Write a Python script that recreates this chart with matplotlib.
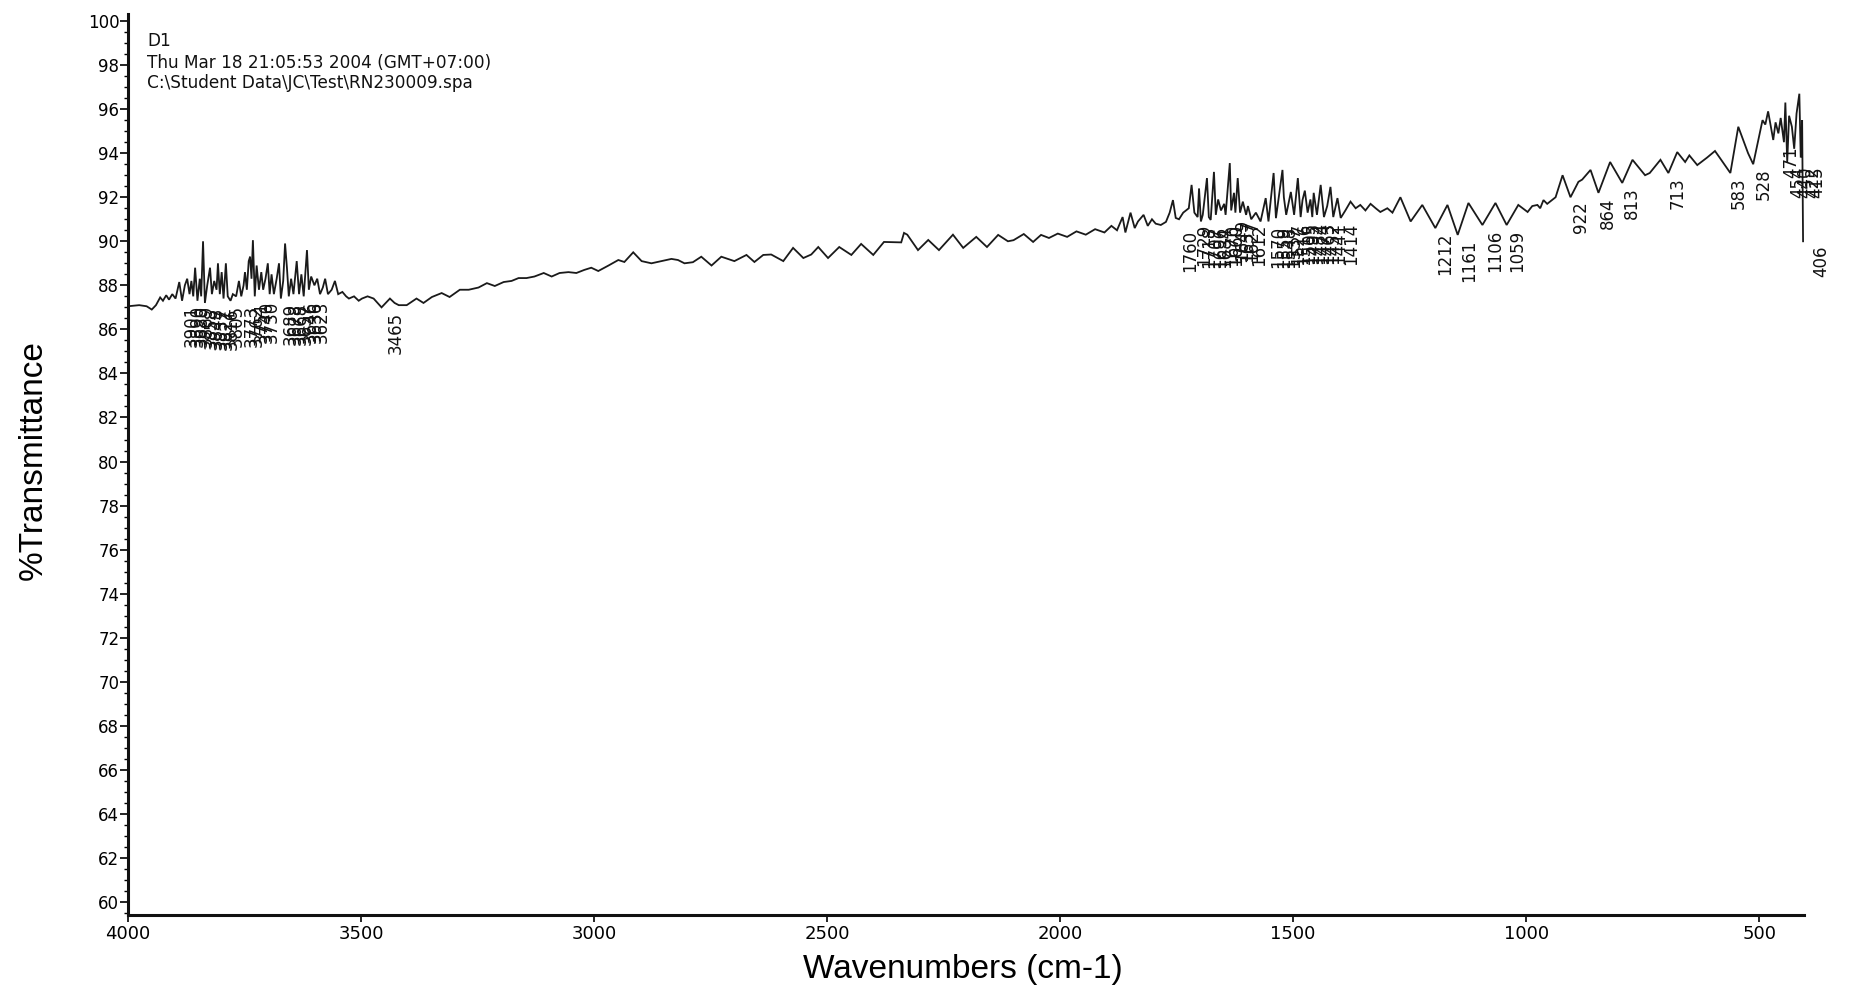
import numpy as np
import matplotlib
matplotlib.use("Agg")
import matplotlib.pyplot as plt
from matplotlib.transforms import offset_copy
from matplotlib.ticker import MultipleLocator

# ---- spectrum (wavenumber cm-1, %T) ----
wavenumbers = [
    4000, 3976, 3960, 3949, 3940, 3931, 3925, 3918, 3912, 3905, 3898, 3890, 3884, 3878, 3873,
    3868, 3864, 3860, 3856, 3851, 3846, 3843, 3839, 3835, 3830, 3824, 3820, 3815, 3810, 3807,
    3803, 3799, 3795, 3790, 3786, 3780, 3775, 3768, 3762, 3757, 3752, 3749, 3745, 3741, 3738,
    3735, 3732, 3728, 3724, 3719, 3714, 3710, 3705, 3700, 3696, 3692, 3687, 3681, 3676, 3672,
    3667, 3663, 3659, 3655, 3650, 3645, 3638, 3633, 3628, 3623, 3616, 3612, 3607, 3600, 3594,
    3588, 3582, 3577, 3571, 3563, 3556, 3549, 3540, 3532, 3526, 3515, 3505, 3498,
    3486, 3473, 3456, 3438, 3428, 3419, 3402, 3381, 3366, 3348, 3327, 3310, 3288, 3269, 3248,
    3230, 3213, 3194, 3177, 3162, 3145, 3128, 3108, 3091, 3074, 3055, 3038, 3021,
    3006, 2991, 2969, 2948, 2935, 2916, 2898, 2877, 2855, 2834, 2820, 2806, 2788, 2770, 2748,
    2727, 2699, 2673, 2656, 2637, 2620, 2594, 2573, 2551, 2534, 2519,
    2498, 2474, 2448, 2427, 2401, 2378, 2341, 2335, 2328, 2305, 2283, 2260, 2230, 2208, 2180,
    2157, 2133, 2112, 2100, 2078, 2058, 2041, 2024,
    2005, 1985, 1965, 1945, 1925, 1905, 1890, 1878, 1866, 1860, 1849, 1840, 1833, 1821, 1812,
    1803, 1795, 1784,
    1773, 1765, 1758, 1752, 1745, 1736, 1730, 1724, 1718, 1712, 1705, 1702, 1698, 1694, 1685,
    1681, 1677, 1670, 1666, 1661, 1655, 1648, 1645, 1636, 1633, 1627, 1624, 1619, 1614, 1608,
    1601, 1597, 1590, 1580, 1570, 1559, 1553, 1542, 1537, 1523, 1520, 1515, 1505, 1498, 1490,
    1484, 1480, 1475, 1469, 1463, 1459, 1456, 1449, 1441, 1434, 1427, 1420, 1414, 1405, 1398,
    1388, 1377, 1366, 1356, 1345, 1334, 1323, 1313,
    1298, 1287, 1270, 1248, 1223, 1195, 1169, 1147, 1124, 1094, 1066, 1042, 1017, 997, 987,
    976, 970, 963, 955, 937, 922, 905, 888, 880, 862, 845, 820, 794, 772,
    745, 735, 712, 695, 676, 659, 650, 633, 612, 595, 585, 562,
    545, 524, 513, 500, 493, 487, 481, 475, 470, 465, 459, 454, 447, 444, 440, 436, 430, 425,
    420, 414, 411, 408, 406,
]
transmittance = [
    87.05, 87.1, 87.05, 86.9, 87.1, 87.45, 87.3, 87.55, 87.35, 87.6, 87.4, 88.15, 87.3, 88.0, 88.3,
    87.6, 88.2, 87.5, 88.8, 87.3, 88.3, 87.5, 90.0, 87.2, 88.0, 88.8, 87.6, 88.2, 87.8, 89.0,
    87.6, 88.6, 87.4, 89.0, 87.5, 87.3, 87.6, 87.5, 88.2, 87.5, 88.0, 88.6, 87.8, 89.1, 89.3,
    88.3, 90.05, 87.5, 88.9, 87.8, 88.6, 87.8, 88.3, 89.0, 87.6, 88.5, 87.6, 88.3, 89.0, 87.4,
    88.2, 89.9, 88.8, 87.5, 88.3, 87.6, 89.1, 87.6, 88.5, 87.5, 89.6, 87.8, 88.4, 88.0, 88.3,
    87.6, 87.9, 88.3, 87.6, 87.8, 88.2, 87.6, 87.7, 87.5, 87.4, 87.5, 87.3, 87.4,
    87.5, 87.4, 87.0, 87.4, 87.2, 87.1, 87.1, 87.4, 87.2, 87.47, 87.65, 87.47, 87.8, 87.8, 87.9,
    88.1, 87.97, 88.15, 88.2, 88.33, 88.33, 88.4, 88.56, 88.4, 88.56, 88.6, 88.56, 88.7,
    88.8, 88.65, 88.9, 89.15, 89.06, 89.5, 89.1, 89.0, 89.1, 89.2, 89.15, 89.0, 89.05, 89.3, 88.9,
    89.3, 89.1, 89.38, 89.06, 89.38, 89.4, 89.1, 89.7, 89.24, 89.4, 89.74,
    89.24, 89.74, 89.38, 89.88, 89.38, 89.97, 89.95, 90.38, 90.3, 89.6, 90.06, 89.6, 90.3, 89.7, 90.2,
    89.74, 90.29, 90.0, 90.05, 90.33, 89.97, 90.29, 90.15,
    90.35, 90.2, 90.45, 90.3, 90.55, 90.4, 90.7, 90.5, 91.1, 90.4, 91.3, 90.6, 90.9, 91.2, 90.7,
    91.0, 90.8, 90.74,
    90.88, 91.3, 91.87, 91.06, 91.0, 91.3, 91.4, 91.5, 92.56, 91.3, 91.1, 92.4, 90.9, 91.2, 92.87,
    91.1, 90.97, 93.15, 91.2, 91.9, 91.4, 91.7, 91.2, 93.55, 91.4, 92.2, 91.3, 92.87, 91.3, 91.8,
    91.2, 91.6, 91.0, 91.3, 90.9, 91.96, 90.9, 93.1, 91.05, 93.24, 92.0, 91.2, 92.24, 91.2, 92.87,
    91.1, 91.87, 92.3, 91.3, 91.9, 91.1, 92.2, 91.2, 92.56, 91.1, 91.6, 92.47, 91.1, 91.96, 91.06,
    91.4, 91.8, 91.5, 91.65, 91.4, 91.7, 91.5, 91.33,
    91.5, 91.3, 92.0, 90.9, 91.65, 90.6, 91.65, 90.29, 91.74, 90.74, 91.74, 90.74, 91.65, 91.33, 91.6,
    91.65, 91.5, 91.87, 91.7, 92.0, 93.0, 92.0, 92.7, 92.8, 93.24, 92.2, 93.6, 92.65, 93.7,
    93.0, 93.1, 93.7, 93.1, 94.05, 93.6, 93.9, 93.46, 93.8, 94.1, 93.8, 93.1,
    95.2, 94.0, 93.5, 94.8, 95.5, 95.3, 95.9, 95.2, 94.6, 95.4, 94.9, 95.6, 94.5, 96.3, 93.6, 95.7,
    95.2, 94.2, 95.8, 96.7, 93.8, 95.5, 90.0,
]

# ---- peak labels ----
peak_labels = [
    3901, 3890, 3880, 3869, 3858, 3848, 3837, 3827, 3816, 3805,
    3773, 3762, 3751, 3740, 3730,
    3689, 3678, 3668, 3657, 3646, 3636, 3623,
    3465,
    1760, 1729, 1718, 1707, 1696, 1684, 1670, 1660, 1649, 1637, 1627, 1612,
    1570, 1559, 1548, 1537, 1527, 1516, 1505, 1495, 1484, 1474, 1463, 1452, 1441,
    1414,
    1212, 1161, 1106, 1059,
    922, 864, 813, 713, 583, 528,
    471, 454, 440, 422, 415, 406,
]

x_ticks = [4000, 3500, 3000, 2500, 2000, 1500, 1000, 500]
y_ticks = list(range(60, 101, 2))

header_lines = [
    "D1",
    "Thu Mar 18 21:05:53 2004 (GMT+07:00)",
    "C:\\Student Data\\JC\\Test\\RN230009.spa",
]

W, H = 1851, 993
fig = plt.figure(figsize=(W / 100, H / 100), dpi=100)
left, right, bottom, top = 128, 1804, 78, 979
ax = fig.add_axes([left / W, bottom / H, (right - left) / W, (top - bottom) / H])

wn = np.array(wavenumbers, dtype=float)
tr = np.array(transmittance, dtype=float)
ax.plot(wn, tr, color="#1a1a1a", lw=1.3, solid_joinstyle="miter")

ax.set_xlim(4000, 404)
ax.set_ylim(59.41, 100.32)

for s in ("top", "right"):
    ax.spines[s].set_visible(False)
for s in ("left", "bottom"):
    ax.spines[s].set_linewidth(2.2)
    ax.spines[s].set_color("#111111")

ax.set_xticks(x_ticks)
ax.set_xticklabels([str(t) for t in x_ticks])
ax.set_yticks(y_ticks)
ax.set_yticklabels([str(t) for t in y_ticks])
ax.yaxis.set_minor_locator(MultipleLocator(0.5))
ax.tick_params(axis="y", which="major", length=5.5, width=1.2, pad=0.8, labelsize=12)
ax.tick_params(axis="y", which="minor", length=3, width=1.0)
ax.tick_params(axis="x", which="major", length=5, width=1.2, pad=2, labelsize=13)
for lab in ax.get_xticklabels() + ax.get_yticklabels():
    lab.set_family("DejaVu Sans")

ax.set_xlabel("Wavenumbers (cm-1)", fontsize=24, family="Liberation Sans")
ax.set_ylabel("%Transmittance", fontsize=24, family="Liberation Sans")
ax.xaxis.set_label_coords(0.498, -0.043)
ax.yaxis.set_label_coords(-0.047, 0.505)

# header
for i, line in enumerate(header_lines):
    yc = [41, 63, 83][i]
    fig.text(147 / W, 1 - yc / H, line, fontsize=12.2, family="DejaVu Sans",
             va="center", ha="left", color="#111111")

# peak labels: placed just below the local minimum of the trace
lab_trans = offset_copy(ax.transData, fig=fig, x=18, y=0, units="dots")
for p in peak_labels:
    mask = (wn >= p - 25) & (wn <= p + 25)
    if p > 410:
        mask &= wn > 407
    ytop = tr[mask].min() - 0.2
    ax.text(p, ytop, str(p), rotation=90, ha="center", va="top", fontsize=12,
            family="DejaVu Sans", color="#111111", transform=lab_trans)

fig.savefig("out.png", dpi=100, facecolor="white")
